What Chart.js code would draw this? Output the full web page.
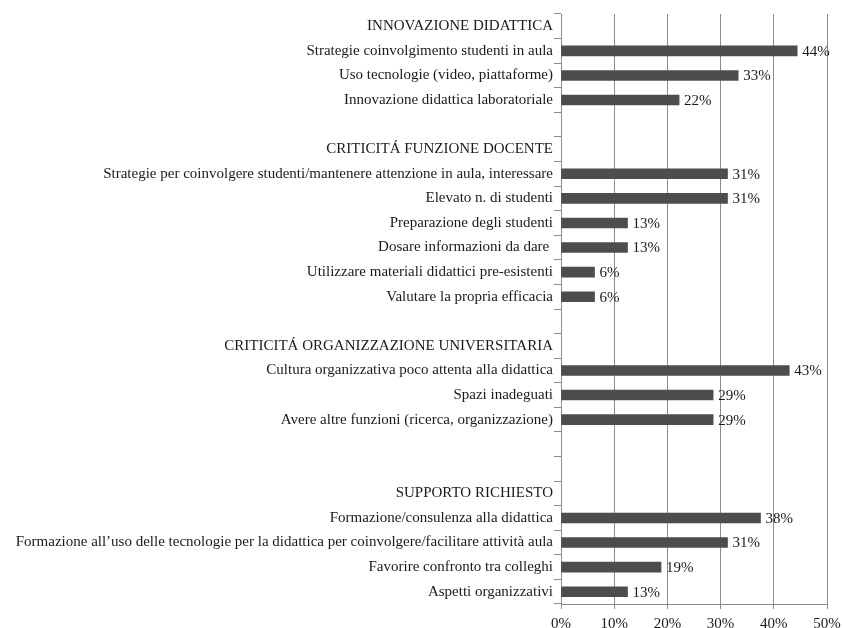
<!DOCTYPE html>
<html>
<head>
<meta charset="utf-8">
<script src="https://cdn.jsdelivr.net/npm/chart.js@4/dist/chart.umd.min.js"></script>
<style>
    body { margin: 0; background: #fff; }
    #box { width: 843px; height: 628px; }
</style>
</head>
<body>
<div id="box"><canvas id="grafico"></canvas></div>
<script>
// righe dell'asse verticale (intestazioni di sezione e righe vuote senza barra)
var categorie = [
    'INNOVAZIONE DIDATTICA',
    'Strategie coinvolgimento studenti in aula',
    'Uso tecnologie (video, piattaforme)',
    'Innovazione didattica laboratoriale',
    '',
    'CRITICITÁ FUNZIONE DOCENTE',
    'Strategie per coinvolgere studenti/mantenere attenzione in aula, interessare',
    'Elevato n. di studenti',
    'Preparazione degli studenti',
    'Dosare informazioni da dare ',
    'Utilizzare materiali didattici pre-esistenti',
    'Valutare la propria efficacia',
    '',
    'CRITICITÁ ORGANIZZAZIONE UNIVERSITARIA',
    'Cultura organizzativa poco attenta alla didattica',
    'Spazi inadeguati',
    'Avere altre funzioni (ricerca, organizzazione)',
    '',
    '',
    'SUPPORTO RICHIESTO',
    'Formazione/consulenza alla didattica',
    'Formazione all\u2019uso delle tecnologie per la didattica per coinvolgere/facilitare attività aula',
    'Favorire confronto tra colleghi',
    'Aspetti organizzativi'
];

// percentuali
var valori = [
    null, 44.4, 33.3, 22.2, null,
    null, 31.3, 31.3, 12.5, 12.5, 6.3, 6.3, null,
    null, 42.9, 28.6, 28.6, null, null,
    null, 37.5, 31.3, 18.8, 12.5
];

var etichette = [
    '', '44%', '33%', '22%', '',
    '', '31%', '31%', '13%', '13%', '6%', '6%', '',
    '', '43%', '29%', '29%', '', '',
    '', '38%', '31%', '19%', '13%'
];

var tickPercentuali = [0, 10, 20, 30, 40, 50];

var fontSerif = '"Liberation Serif", "Times New Roman", serif';

// scrive la percentuale a destra di ogni barra
var pluginEtichette = {
    id: 'etichette',
    afterDatasetsDraw: function(chart) {
        var ctx = chart.ctx;
        var meta = chart.getDatasetMeta(0);
        ctx.save();
        ctx.font = '15px ' + fontSerif;
        ctx.fillStyle = '#1a1a1a';
        ctx.textBaseline = 'middle';
        ctx.textAlign = 'left';
        meta.data.forEach(function(bar, i) {
            if (valori[i] == null) return;
            ctx.fillText(etichette[i], bar.x + 5, bar.y + 1);
        });
        ctx.restore();
    }
};

new Chart(document.getElementById('grafico'), {
    type: 'bar',
    data: {
        labels: categorie,
        datasets: [{
            data: valori,
            backgroundColor: '#4d4d4d',
            barThickness: 10
        }]
    },
    options: {
        indexAxis: 'y',
        responsive: true,
        maintainAspectRatio: false,
        animation: false,
        layout: { padding: { top: 14, right: 16, left: 0, bottom: 0 } },
        plugins: {
            legend: { display: false },
            tooltip: { enabled: false }
        },
        scales: {
            x: {
                min: 0,
                max: 50,
                afterBuildTicks: function(scale) {
                    scale.ticks = tickPercentuali.map(function(v) { return { value: v }; });
                },
                afterFit: function(scale) {
                    scale.height = 24;
                    scale.paddingLeft = 0;
                    scale.paddingRight = 0;
                },
                grid: { color: '#8c8c8c', tickLength: 5, lineWidth: 1 },
                border: { color: '#8c8c8c' },
                ticks: {
                    color: '#1a1a1a',
                    padding: 6,
                    font: { family: fontSerif, size: 15 },
                    callback: function(v) { return v + '%'; }
                }
            },
            y: {
                afterFit: function(scale) { scale.width = 561; },
                grid: { offset: true, drawOnChartArea: false, tickLength: 7, color: '#8c8c8c' },
                border: { color: '#8c8c8c' },
                ticks: {
                    autoSkip: false,
                    color: '#1a1a1a',
                    padding: 1,
                    font: { family: fontSerif, size: 15 }
                }
            }
        }
    },
    plugins: [pluginEtichette]
});
</script>
</body>
</html>
